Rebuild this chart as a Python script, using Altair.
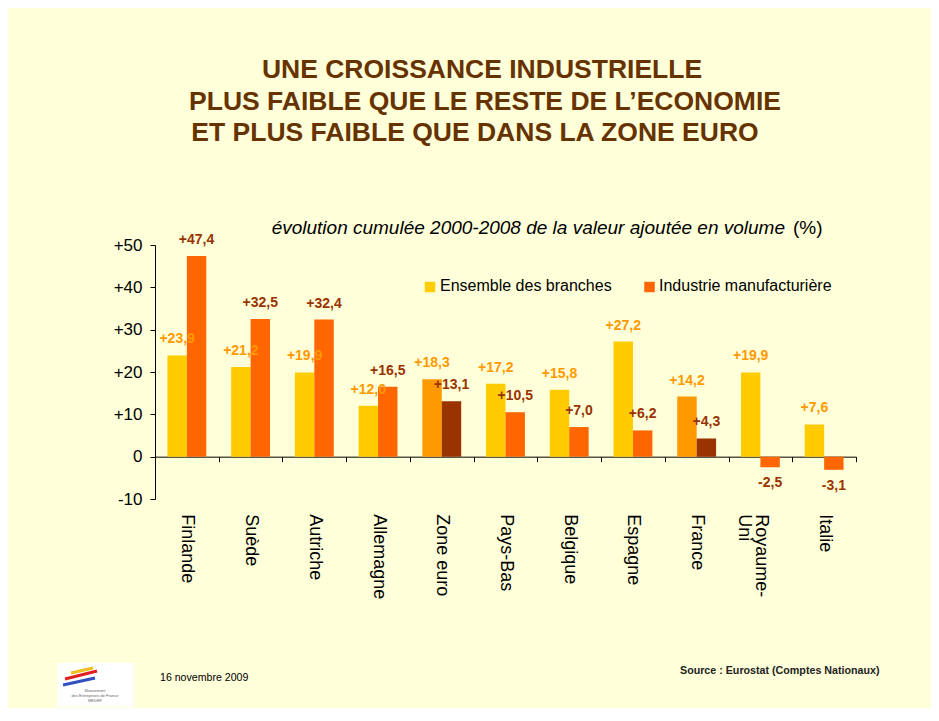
import altair as alt
import pandas as pd

# ---------------- data ----------------
countries = ["Finlande", "Suède", "Autriche", "Allemagne", "Zone euro", "Pays-Bas",
             "Belgique", "Espagne", "France", "Royaume-Uni", "Italie"]
ensemble = [23.9, 21.2, 19.9, 12.0, 18.3, 17.2, 15.8, 27.2, 14.2, 19.9, 7.6]
industrie = [47.4, 32.5, 32.4, 16.5, 13.1, 10.5, 7.0, 6.2, 4.3, -2.5, -3.1]
highlighted = ["Zone euro", "France"]
series_names = ["Ensemble des branches", "Industrie manufacturière"]
y_ticks = [-10, 0, 10, 20, 30, 40, 50]

title_lines = ["UNE CROISSANCE INDUSTRIELLE",
               "PLUS FAIBLE QUE LE RESTE DE L\u2019ECONOMIE",
               "ET PLUS FAIBLE QUE DANS LA ZONE EURO"]
subtitle_italic = "évolution cumulée 2000-2008 de la valeur ajoutée en volume"
subtitle_plain = "(%)"
date_text = "16 novembre 2009"
source_text = "Source : Eurostat (Comptes Nationaux)"

# colours
bar_colors = {"Ensemble des branches": ("#FFCC00", "#FF9900"),
              "Industrie manufacturière": ("#FF6600", "#993300")}
label_colors = {"Ensemble des branches": "#FF9900",
                "Industrie manufacturière": "#993300"}
BG = "#FFFFD9"
FONT = "Liberation Sans"

rows = []
for c, e, i in zip(countries, ensemble, industrie):
    for s, v in zip(series_names, (e, i)):
        rows.append({
            "country": c,
            "series": s,
            "value": v,
            "fill": bar_colors[s][1 if c in highlighted else 0],
            "lcolor": label_colors[s],
            "label": f"{v:+.1f}".replace(".", ","),
        })
df = pd.DataFrame(rows)

W, H = 701, 254

X = alt.X("country:N", sort=countries,
          scale=alt.Scale(paddingInner=0, paddingOuter=0),
          axis=alt.Axis(title=None, orient="bottom", offset=-42.33,
                        tickBand="extent", tickSize=5, tickColor="black",
                        domainColor="black", domainWidth=1, tickWidth=1,
                        labelAngle=90, labelPadding=52, labelFontSize=18,
                        labelColor="black", labelFont=FONT, labelLineHeight=17,
                        labelExpr="datum.value == 'Royaume-Uni' ? ['Royaume-', 'Uni'] : datum.value"))
XO = alt.XOffset("series:N", sort=series_names,
                 scale=alt.Scale(paddingInner=0, paddingOuter=0.64))
Y = alt.Y("value:Q",
          scale=alt.Scale(domain=[-10, 50], nice=False, zero=False),
          axis=alt.Axis(title=None, values=y_ticks, grid=False, tickSize=5,
                        tickColor="black", domainColor="black", labelPadding=8,
                        labelFontSize=17, labelColor="black", labelFont=FONT,
                        labelExpr="datum.value > 0 ? '+' + datum.value : '' + datum.value"))

bars = alt.Chart(df).mark_bar().encode(
    x=X, xOffset=XO, y=Y, color=alt.Color("fill:N", scale=None))

pos_labels = alt.Chart(df).transform_filter("datum.value >= 0").mark_text(
    baseline="alphabetic", align="center", dy=-12, fontSize=14, fontWeight="bold", font=FONT
).encode(x=X, xOffset=XO, y=Y, text="label:N", color=alt.Color("lcolor:N", scale=None))

neg_labels = alt.Chart(df).transform_filter("datum.value < 0").mark_text(
    baseline="alphabetic", align="center", dy=20, fontSize=14, fontWeight="bold", font=FONT
).encode(x=X, xOffset=XO, y=Y, text="label:N", color=alt.Color("lcolor:N", scale=None))

# ---------------- decorations ----------------
title_df = pd.DataFrame({"t": title_lines, "xp": [327, 330, 320], "yp": [-175, -143, -112]})
title = alt.Chart(title_df).mark_text(
    fontSize=26.5, fontWeight="bold", font=FONT, color="#663300",
    align="center", baseline="middle"
).encode(x=alt.X("xp:Q", scale=None), y=alt.Y("yp:Q", scale=None), text="t:N")

one = pd.DataFrame({"a": [0]})
sub1 = alt.Chart(one).mark_text(
    text=subtitle_italic, fontSize=19, fontStyle="italic", font=FONT, color="black",
    align="right", baseline="middle"
).encode(x=alt.value(630), y=alt.value(-17))
sub2 = alt.Chart(one).mark_text(
    text=subtitle_plain, fontSize=19, font=FONT, color="black",
    align="left", baseline="middle"
).encode(x=alt.value(638), y=alt.value(-17))

leg_df = pd.DataFrame({"s": series_names, "c": ["#FFCC00", "#FF6600"],
                       "xp": [275, 494.5], "tx": [285, 504]})
leg_sq = alt.Chart(leg_df).mark_square(size=110, opacity=1).encode(
    x=alt.X("xp:Q", scale=None), y=alt.value(42), color=alt.Color("c:N", scale=None))
leg_tx = alt.Chart(leg_df).mark_text(
    fontSize=16, font=FONT, color="black", align="left", baseline="middle"
).encode(x=alt.X("tx:Q", scale=None), y=alt.value(41), text="s:N")

date = alt.Chart(one).mark_text(
    text=date_text, fontSize=10.6, font=FONT, color="black", align="left", baseline="middle"
).encode(x=alt.value(5), y=alt.value(433))
source = alt.Chart(one).mark_text(
    text=source_text, fontSize=10.7, fontWeight="bold", font=FONT, color="#222222",
    align="left", baseline="middle"
).encode(x=alt.value(525), y=alt.value(426))

logo_box = alt.Chart(one).mark_rect(color="white").encode(
    x=alt.value(-98), x2=alt.value(-21), y=alt.value(418), y2=alt.value(462))
logo_df = pd.DataFrame({"x1": [-90, -92, -84], "x2": [-58, -60, -62],
                        "y1": [434, 440, 428], "y2": [426, 433, 423],
                        "c": ["#E02020", "#3050C0", "#F0C020"]})
logo_strokes = alt.Chart(logo_df).mark_rule(strokeWidth=3).encode(
    x=alt.X("x1:Q", scale=None), x2="x2:Q", y=alt.Y("y1:Q", scale=None), y2="y2:Q",
    color=alt.Color("c:N", scale=None))
logo_txt = alt.Chart(pd.DataFrame({"t": ["Mouvement", "des Entreprises de France", "MEDEF"],
                                   "yp": [446, 451, 456]})).mark_text(
    fontSize=4, font=FONT, color="#666666", align="center", baseline="middle"
).encode(x=alt.value(-60), y=alt.Y("yp:Q", scale=None), text="t:N")

chart = alt.layer(
    bars, pos_labels, neg_labels, title, sub1, sub2, leg_sq, leg_tx,
    date, source, logo_box, logo_strokes, logo_txt
).properties(
    width=W, height=H,
    autosize=alt.AutoSizeParams(type="none"),
    padding={"left": 147, "top": 237, "right": 75, "bottom": 209},
    background=BG,
).configure_view(stroke=None)

chart.save("out.html", embed_options={"renderer": "svg", "actions": False})
